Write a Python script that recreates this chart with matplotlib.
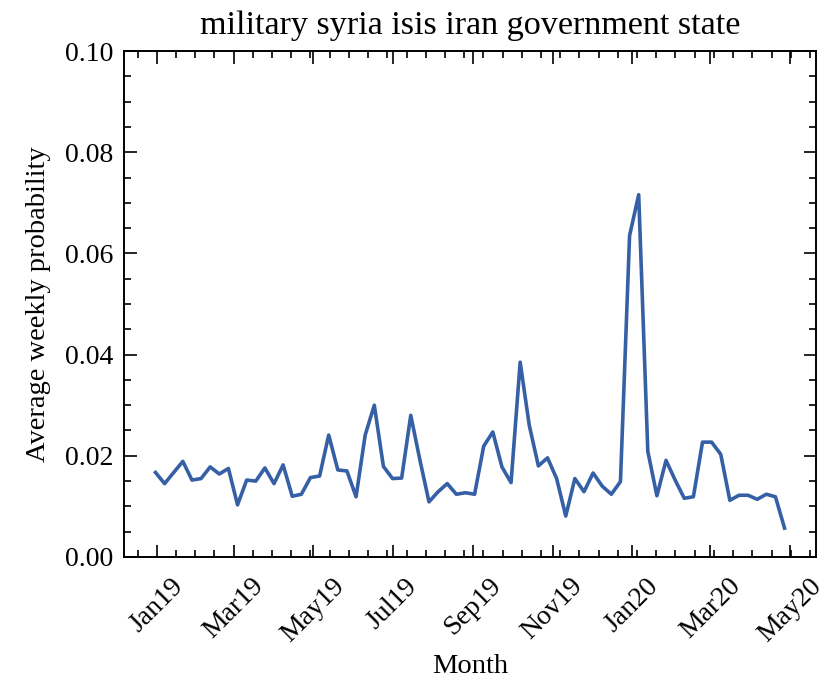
import matplotlib
matplotlib.use("Agg")
import matplotlib.pyplot as plt
import matplotlib.dates as mdates
from matplotlib.ticker import AutoMinorLocator, MultipleLocator
import pandas as pd

# weekly average probability of the topic
week_start = "2018-12-31"
avg_prob = [
    0.0167, 0.0145, 0.0167, 0.0189, 0.0152, 0.0155, 0.0178, 0.0164, 0.0175, 0.0103,
    0.0152, 0.0150, 0.0176, 0.0145, 0.0182, 0.0120, 0.0124, 0.0157, 0.0160, 0.0241,
    0.0172, 0.0170, 0.0119, 0.0241, 0.0300, 0.0179, 0.0155, 0.0156, 0.0280, 0.0192,
    0.0109, 0.0129, 0.0145, 0.0124, 0.0127, 0.0124, 0.0219, 0.0247, 0.0178, 0.0147,
    0.0385, 0.0260, 0.0180, 0.0196, 0.0155, 0.0081, 0.0155, 0.0129, 0.0166, 0.0140,
    0.0124, 0.0149, 0.0635, 0.0716, 0.0209, 0.0121, 0.0191, 0.0152, 0.0116, 0.0119,
    0.0227, 0.0227, 0.0203, 0.0112, 0.0122, 0.0122, 0.0114, 0.0124, 0.0119, 0.0057,
]
weeks = pd.date_range(week_start, periods=len(avg_prob), freq="7D")

title = "military syria isis iran government state"

plt.rcParams["font.family"] = ["Liberation Serif", "DejaVu Serif"]
plt.rcParams["font.size"] = 20.5

fig = plt.figure(figsize=(8.33, 6.81), dpi=100)
ax = fig.add_axes([0.1489, 0.1821, 0.8307, 0.7430])

ax.plot(weeks, avg_prob, color="#3560A5", lw=2.6)

ax.set_ylim(0, 0.10)
ax.yaxis.set_major_locator(MultipleLocator(0.02))
ax.yaxis.set_minor_locator(AutoMinorLocator(4))
ax.yaxis.set_major_formatter(plt.FormatStrFormatter("%.2f"))

ax.xaxis.set_major_locator(mdates.MonthLocator(bymonth=[1, 3, 5, 7, 9, 11]))
ax.xaxis.set_major_formatter(mdates.DateFormatter("%b%y"))
ax.xaxis.set_minor_locator(AutoMinorLocator(4))
plt.setp(ax.get_xticklabels(), rotation=45)

for s in ax.spines.values():
    s.set_linewidth(1.4)
ax.tick_params(which="both", direction="in", top=True, right=True, width=1.2)
ax.tick_params(which="major", length=9, labelsize=20)
ax.tick_params(axis="y", which="major", pad=8)
ax.tick_params(axis="x", which="major", pad=12)
ax.tick_params(which="minor", length=5)

ax.set_title(title, pad=12)
ax.set_xlabel("Month", labelpad=5)
ax.set_ylabel("Average weekly probability", labelpad=10)

fig.savefig("out.png", dpi=100)
